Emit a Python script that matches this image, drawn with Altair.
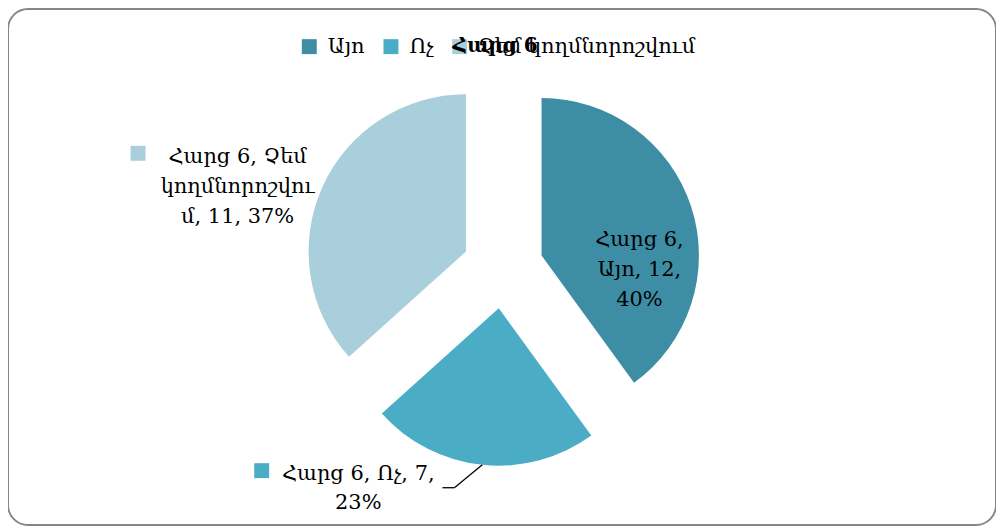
import altair as alt
import pandas as pd

question = "Հարց 6"
categories = ["Այո", "Ոչ", "Չեմ կողմնորոշվում"]
values = [12, 7, 11]
percents = ["40%", "23%", "37%"]
label_texts = [
    "Հարց 6,\nԱյո, 12,\n40%",
    "Հարց 6, Ոչ, 7,\n23%",
    "Հարց 6, Չեմ\nկողմնորոշվու\nմ, 11, 37%",
]
colors = ["#3D8DA5", "#4BACC6", "#A9CEDC"]

W, H = 992, 518
CX, CY = 497, 260
R = 158
EXPLODE = 40.7
FONT = "DejaVu Serif"
FS = 21
LH = 30

df = pd.DataFrame({
    "cat": categories,
    "value": values,
    "pct": percents,
    "label": label_texts,
    "order": list(range(len(categories))),
})

base = alt.Chart(df).transform_joinaggregate(
    total="sum(value)"
).transform_window(
    cum="sum(value)", sort=[alt.SortField("order")], frame=[None, 0]
).transform_calculate(
    t0="(datum.cum - datum.value) / datum.total * 2 * PI",
    t1="datum.cum / datum.total * 2 * PI",
).transform_calculate(
    mid="(datum.t0 + datum.t1) / 2",
).transform_calculate(
    cx=f"{CX} + {EXPLODE} * sin(datum.mid)",
    cy=f"{CY} - {EXPLODE} * cos(datum.mid)",
)

arcs = base.mark_arc(radius=R).encode(
    x=alt.X("cx:Q", scale=None, axis=None),
    y=alt.Y("cy:Q", scale=None, axis=None),
    theta=alt.Theta("t0:Q", scale=None),
    theta2="t1:Q",
    color=alt.Color(
        "cat:N",
        scale=alt.Scale(domain=categories, range=colors),
        sort=categories,
        legend=alt.Legend(
            orient="none", legendX=292, legendY=27, direction="horizontal",
            title=None, symbolType="square", symbolSize=225,
            symbolStrokeWidth=0, labelFont=FONT, labelFontSize=FS,
            labelColor="#000000", columnPadding=15, labelOffset=8,
            labelLimit=400,
        ),
    ),
    order=alt.Order("order:Q"),
)


def label_layer(cat, r, dx, dy):
    return base.transform_filter(alt.datum.cat == cat).transform_calculate(
        lx=f"datum.cx + {r} * sin(datum.mid)",
        ly=f"datum.cy - {r} * cos(datum.mid)",
    ).mark_text(
        align="center", baseline="middle", lineBreak="\n", lineHeight=LH,
        font=FONT, fontSize=FS, color="#000000", dx=dx, dy=dy,
    ).encode(
        x=alt.X("lx:Q", scale=None, axis=None),
        y=alt.Y("ly:Q", scale=None, axis=None),
        text="label:N",
    )


lab1 = label_layer("Այո", 95, 8, 44 - LH)
lab2 = label_layer("Ոչ", 182, -122, -LH / 2)
lab3 = label_layer("Չեմ կողմնորոշվում", 240, -10, 33 - LH)

# legend keys inside data labels
key2 = base.transform_filter(alt.datum.cat == "Ոչ").transform_calculate(
    lx="datum.cx + 182 * sin(datum.mid) - 122 - 97",
    ly="datum.cy - 182 * cos(datum.mid) - 18",
).mark_square(size=225, opacity=1).encode(
    x=alt.X("lx:Q", scale=None, axis=None),
    y=alt.Y("ly:Q", scale=None, axis=None),
    color=alt.Color("cat:N", scale=alt.Scale(domain=categories, range=colors), legend=None),
)
key3 = base.transform_filter(alt.datum.cat == "Չեմ կողմնորոշվում").transform_calculate(
    lx="datum.cx + 240 * sin(datum.mid) - 12 - 98",
    ly="datum.cy - 240 * cos(datum.mid) + 33 - 34",
).mark_square(size=225, opacity=1).encode(
    x=alt.X("lx:Q", scale=None, axis=None),
    y=alt.Y("ly:Q", scale=None, axis=None),
    color=alt.Color("cat:N", scale=alt.Scale(domain=categories, range=colors), legend=None),
)

# leader line for the "Ոչ" label
leader = base.transform_filter(alt.datum.cat == "Ոչ").transform_calculate(
    x0=f"datum.cx + {R} * sin(datum.mid)",
    y0=f"datum.cy - {R} * cos(datum.mid)",
).transform_calculate(
    x1="datum.x0 - 28", y1="datum.y0 + 23",
).transform_calculate(
    x2="datum.x1 - 12",
)
lead1 = leader.mark_rule(color="#000000", strokeWidth=1.3).encode(
    x=alt.X("x0:Q", scale=None, axis=None), y=alt.Y("y0:Q", scale=None, axis=None),
    x2="x1:Q", y2="y1:Q",
)
lead2 = leader.mark_rule(color="#000000", strokeWidth=1.3).encode(
    x=alt.X("x1:Q", scale=None, axis=None), y=alt.Y("y1:Q", scale=None, axis=None),
    x2="x2:Q",
)

chart = alt.layer(arcs, lead1, lead2, key2, key3, lab1, lab2, lab3).properties(
    width=W, height=H,
    autosize=alt.AutoSizeParams(type="none"),
    padding=0,
    title=alt.Title(question, font=FONT, fontSize=20, fontWeight="bold",
                    color="#000000", anchor="middle", dy=51, dx=-7),
).resolve_scale(color="shared").configure_view(
    stroke="#868686", strokeWidth=2, cornerRadius=20,
)

chart.save("out.html", embed_options={"renderer": "svg", "actions": False})
